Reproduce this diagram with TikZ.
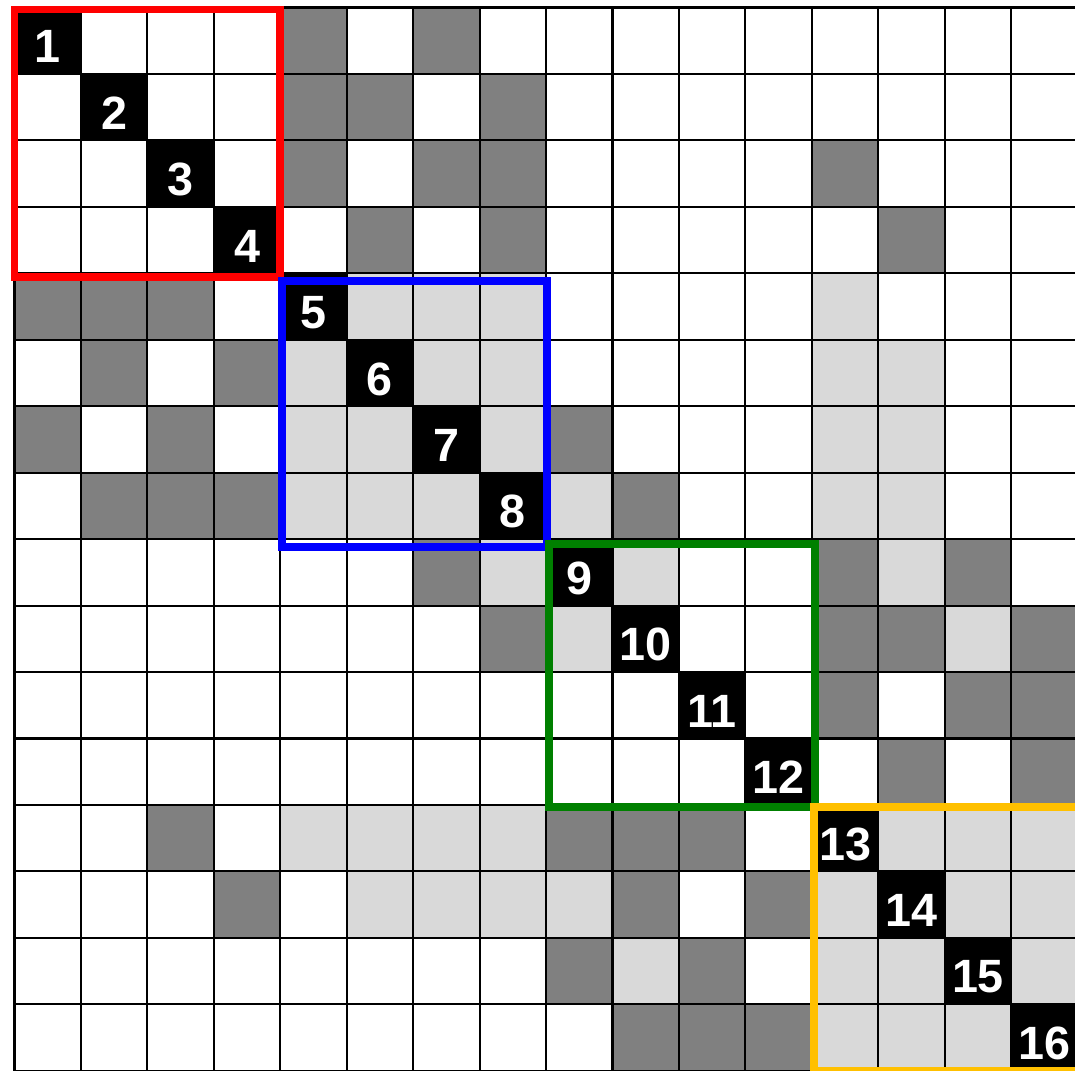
\documentclass[tikz,border=0pt]{standalone}
\usepackage{fontspec}
\setmainfont{Liberation Sans}
\usepackage{xcolor}
\definecolor{mxdark}{RGB}{128,128,128}
\definecolor{mxlight}{RGB}{217,217,217}
\definecolor{mxred}{RGB}{255,0,0}
\definecolor{mxblue}{RGB}{0,0,255}
\definecolor{mxgreen}{RGB}{0,128,0}
\definecolor{mxorange}{RGB}{255,192,0}
\usepackage{tikz}
\usetikzlibrary{positioning}

\begin{document}
\begin{tikzpicture}[x=1cm,y=-1cm,
  gridline/.style={line width=0.9pt,black},
  blockframe/.style={line width=3.4pt},
  numlabel/.style={text=white,font=\fontsize{20}{24}\selectfont\bfseries,inner sep=0pt}]
  \useasboundingbox (-0.218,-0.113) rectangle (15.96,16.0);
  % Dark entries (column/row)
  \foreach \c/\r in {4/0,6/0, 4/1,5/1,7/1, 4/2,6/2,7/2,12/2, 5/3,7/3,13/3,
      0/4,1/4,2/4, 1/5,3/5, 0/6,2/6,8/6, 1/7,2/7,3/7,9/7,
      6/8,12/8,14/8, 7/9,12/9,13/9,15/9, 12/10,14/10,15/10, 13/11,15/11,
      2/12,8/12,9/12,10/12, 3/13,9/13,11/13, 8/14,10/14, 9/15,10/15,11/15}
    \fill[mxdark] (\c,\r) rectangle ++(1,1);
  % Light entries
  \foreach \c/\r in {5/4,6/4,7/4,12/4, 4/5,6/5,7/5,12/5,13/5,
      4/6,5/6,7/6,12/6,13/6, 4/7,5/7,6/7,8/7,12/7,13/7,
      7/8,9/8,13/8, 8/9,14/9,
      4/12,5/12,6/12,7/12,13/12,14/12,15/12, 5/13,6/13,7/13,8/13,12/13,14/13,15/13,
      9/14,12/14,13/14,15/14, 12/15,13/15,14/15}
    \fill[mxlight] (\c,\r) rectangle ++(1,1);
  % Diagonal
  \foreach \i in {1,...,16}
    \fill[black] (\i-1,\i-1) rectangle (\i,\i);
  % Grid
  \draw[gridline] (0,0) grid (16,16);
  % Numbers
  \foreach \i in {1,...,16}
    \node[numlabel] (n\i) at (\i-0.5,\i-0.41) {\i};
  % Blocks
  \draw[blockframe,mxred] (0,0.03) rectangle (4,4.05);
  \draw[blockframe,mxblue] (4.02,4.12) rectangle (8.02,8.12);
  \draw[blockframe,mxgreen] (8.04,8.08) rectangle (12.04,12.03);
  \draw[blockframe,mxorange] (12.03,12.03) rectangle (16.03,16.0);
\end{tikzpicture}
\end{document}
